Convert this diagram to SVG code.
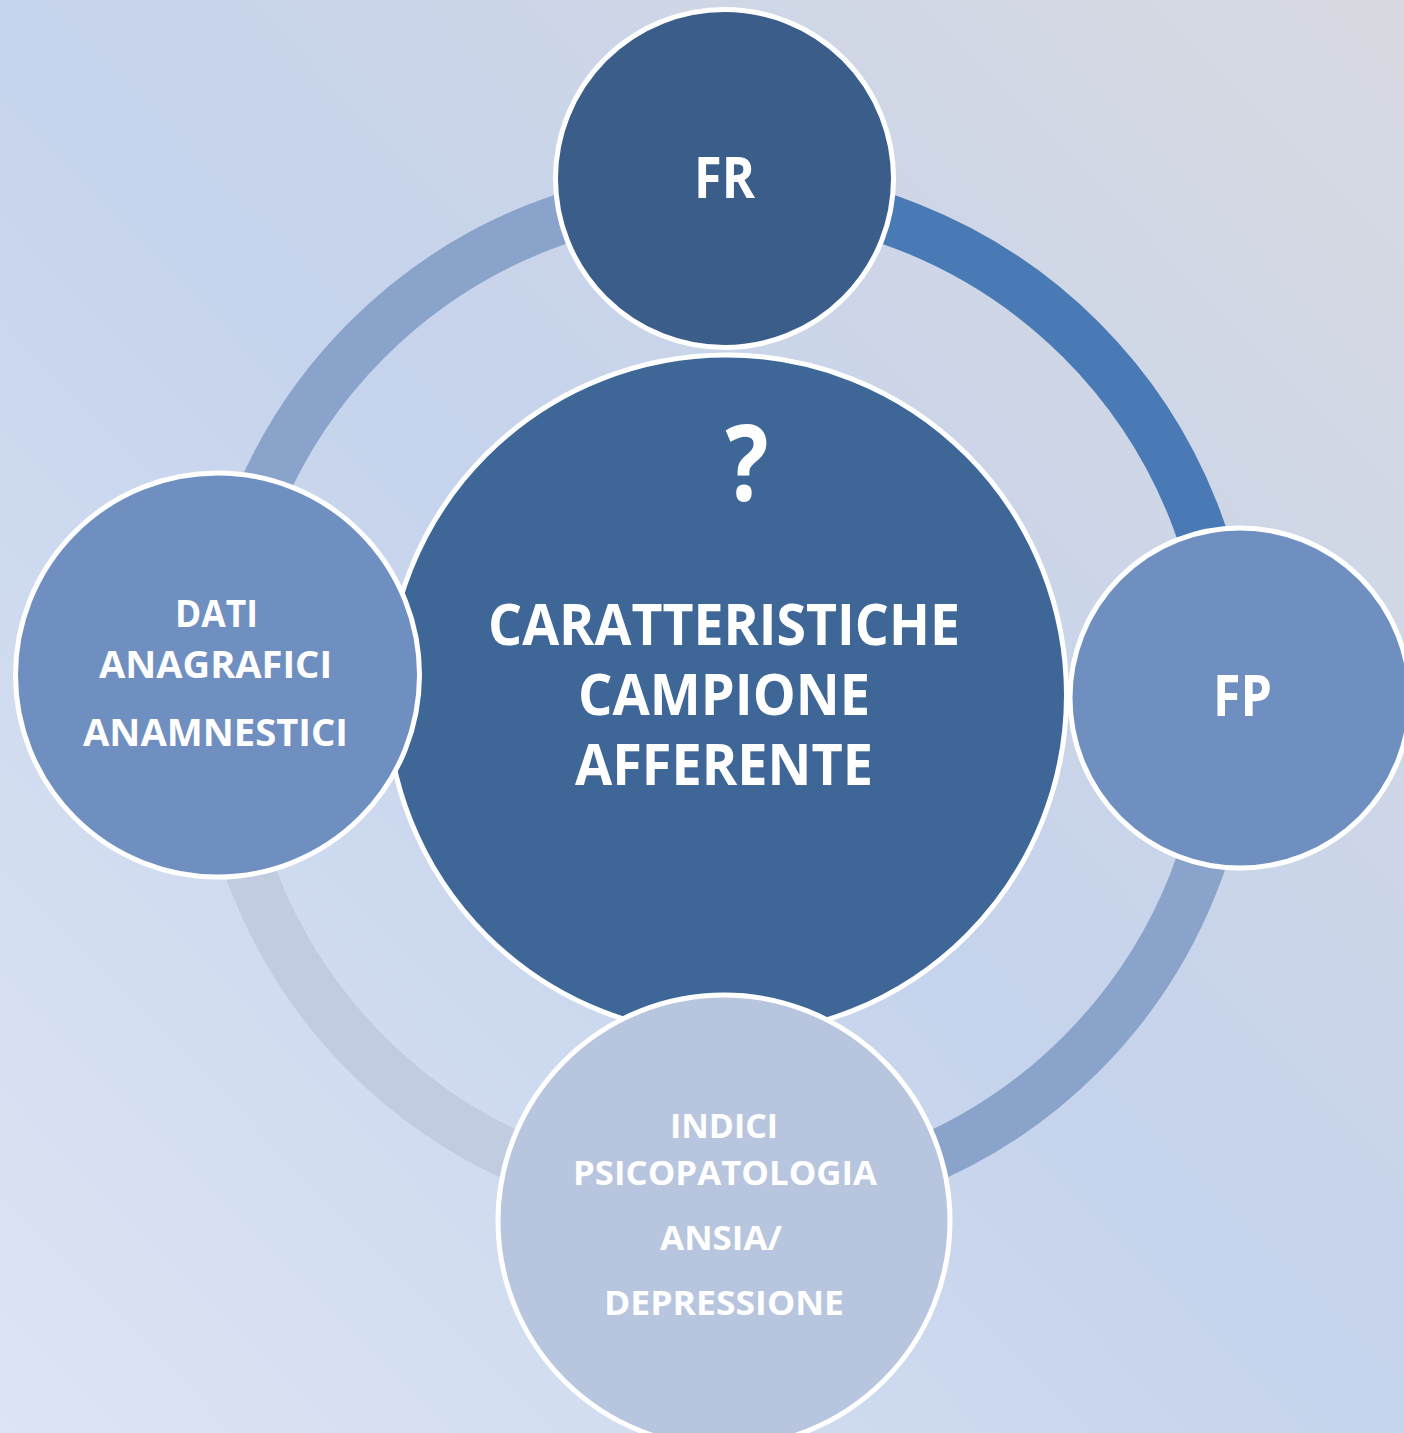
<svg xmlns="http://www.w3.org/2000/svg" width="1404" height="1433" viewBox="0 0 1404 1433">
<defs>
<linearGradient id="bg" x1="1" y1="0" x2="0" y2="1">
<stop offset="0" stop-color="#d8dae1"/>
<stop offset="0.5" stop-color="#c5d3ec"/>
<stop offset="1" stop-color="#dde5f4"/>
</linearGradient>
<style>
.node{stroke:#ffffff;stroke-width:5}
.arc{fill:none;stroke-width:50}
text{font-family:"Open Sans","Noto Sans","Liberation Sans",sans-serif;font-weight:700;fill:#ffffff;text-anchor:middle}
</style>
</defs>
<rect width="1404" height="1433" fill="url(#bg)"/>
<g id="connectors">
<path class="arc" stroke="#8aa3cb" d="M219,697 A505,505 0 0 1 724,192"/>
<path class="arc" stroke="#4a7ab5" d="M724,192 A505,505 0 0 1 1229,697"/>
<path class="arc" stroke="#8aa3cb" d="M1229,697 A505,505 0 0 1 724,1202"/>
<path class="arc" stroke="#c2cce0" d="M724,1202 A505,505 0 0 1 219,697"/>
</g>
<g id="center">
<circle class="node" cx="726.5" cy="695" r="340" fill="#3e6697"/>
<text x="747" y="501" font-size="105" textLength="43" lengthAdjust="spacingAndGlyphs">?</text>
<text x="724" y="645" font-size="57" textLength="472" lengthAdjust="spacingAndGlyphs">CARATTERISTICHE</text>
<text x="724" y="715" font-size="57" textLength="292" lengthAdjust="spacingAndGlyphs">CAMPIONE</text>
<text x="724" y="785" font-size="57" textLength="298" lengthAdjust="spacingAndGlyphs">AFFERENTE</text>
</g>
<g id="fr">
<circle class="node" cx="724.5" cy="178.5" r="169" fill="#3a5d8a"/>
<text x="724.5" y="198" font-size="57" textLength="61" lengthAdjust="spacingAndGlyphs">FR</text>
</g>
<g id="fp">
<circle class="node" cx="1240" cy="698" r="170" fill="#6f8fc0"/>
<text x="1242.5" y="716" font-size="57" textLength="59" lengthAdjust="spacingAndGlyphs">FP</text>
</g>
<g id="dati">
<circle class="node" cx="217.5" cy="675" r="202" fill="#6f8fc0"/>
<text x="216.5" y="627" font-size="38" textLength="83" lengthAdjust="spacingAndGlyphs">DATI</text>
<text x="215.5" y="678" font-size="38" textLength="233" lengthAdjust="spacingAndGlyphs">ANAGRAFICI</text>
<text x="215.5" y="746" font-size="38" textLength="265" lengthAdjust="spacingAndGlyphs">ANAMNESTICI</text>
</g>
<g id="indici">
<circle class="node" cx="724" cy="1221" r="226" fill="#b8c5de"/>
<text x="724" y="1138" font-size="34" textLength="108" lengthAdjust="spacingAndGlyphs">INDICI</text>
<text x="725" y="1185" font-size="34" textLength="304" lengthAdjust="spacingAndGlyphs">PSICOPATOLOGIA</text>
<text x="721" y="1250" font-size="34" textLength="122" lengthAdjust="spacingAndGlyphs">ANSIA/</text>
<text x="724" y="1315" font-size="34" textLength="240" lengthAdjust="spacingAndGlyphs">DEPRESSIONE</text>
</g>
</svg>
